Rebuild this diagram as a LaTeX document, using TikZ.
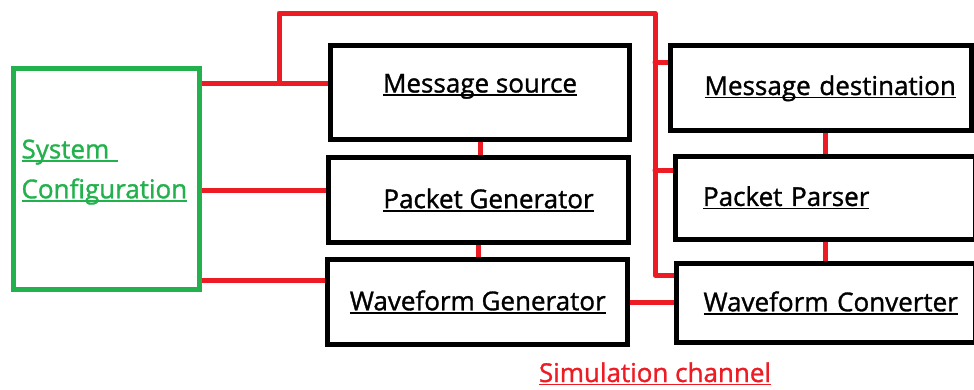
\documentclass[tikz,border=0pt]{standalone}
\usepackage{fontspec}
\setmainfont{Open Sans}
\newfontfamily\boxfont{Open Sans}[FakeBold=1.2]
\usetikzlibrary{positioning, backgrounds}

\definecolor{cfggreen}{RGB}{34,177,76}
\definecolor{wirered}{RGB}{237,28,36}
% underline that cuts through the descenders
\newcommand\ulbox[1]{\leavevmode\setbox0\hbox{#1}\rlap{\rule[-0.13em]{\wd0}{0.06em}}\box0}

\begin{document}
\begin{tikzpicture}[
    x=0.02cm, y=-0.02cm,
    blk/.style={rectangle, draw, line width=0.1cm, minimum width=6cm, minimum height=1.7cm, inner sep=0pt, font=\boxfont\fontsize{14.8}{17}\selectfont},
    leftblk/.style={blk, align=center},
    rightblk/.style={blk, text width=4.9cm, inner xsep=0.55cm, align=left},
    cfgbox/.style={rectangle, draw=cfggreen, text=cfggreen, line width=0.1cm, minimum width=3.72cm, minimum height=4.42cm, text width=3.4cm, inner xsep=0.16cm, align=left, font=\boxfont\fontsize{14.8}{22.7}\selectfont},
    wire/.style={draw=wirered, line width=0.1cm, line cap=round, line join=round},
    chlabel/.style={text=wirered, font=\boxfont\fontsize{14.8}{17}\selectfont},
]
    \useasboundingbox (0,0) rectangle (974,389);

    % Configuration block
    \node[cfgbox, text depth=1.2cm] (sysconf) at (106.5,179) {\ulbox{System\ }\\\ulbox{Configuration}};

    % Transmit side
    \node[leftblk, minimum width=5.98cm, minimum height=1.88cm, text height=0.42cm, text depth=0.42cm] (msgsrc) at (480,92.5) {\ulbox{Message source}};
    \node[leftblk] (pktgen) at (478.5,200) {\hspace*{0.4cm}\ulbox{Packet Generator}};
    \node[leftblk] (wavgen) at (477.75,302) {\ulbox{Waveform Generator}};

    % Receive side
    \node[rightblk, minimum width=6.03cm, minimum height=1.71cm, inner xsep=0.68cm, text width=4.67cm] (msgdst) at (821.25,88.25) {\ulbox{Message destination}};
    \node[rightblk, minimum height=1.67cm] (pktpar) at (825.5,197.75) {\ulbox{Packet Parser}};
    \node[rightblk, minimum height=1.6cm] (wavconv) at (826,303) {\ulbox{Waveform Converter}};

    \node[chlabel, anchor=base] (simch) at (655,382) {\ulbox{Simulation channel}};

    % Tap points of the configuration bus
    \coordinate (tapL) at (279,83);
    \coordinate (tapR) at (655,13);
    \coordinate (busend) at (655,275);
    \coordinate (brdst) at (655,62);
    \coordinate (brpar) at (655,170);
    \coordinate (cfgpk) at (260,190);
    \coordinate (cfgwv) at (260,280);

    \begin{scope}[on background layer]
    \draw[wire] (sysconf.east |- tapL) -- (msgsrc.west |- tapL);
    \draw[wire] (tapL) |- (tapR) -- (busend) -- (busend -| wavconv.west);
    \draw[wire] (brdst) -- (brdst -| msgdst.west);
    \draw[wire] (brpar) -- (brpar -| pktpar.west);
    \draw[wire] (sysconf.east |- cfgpk) -- (pktgen.west |- cfgpk);
    \draw[wire] (sysconf.east |- cfgwv) -- (wavgen.west |- cfgwv);

    % Chain links
    \draw[wire] (msgsrc.south) -- (msgsrc.south |- pktgen.north);
    \draw[wire] (pktgen.south) -- (pktgen.south |- wavgen.north);
    \draw[wire] (pktpar.north |- msgdst.south) -- (pktpar.north);
    \draw[wire] (pktpar.south) -- (pktpar.south |- wavconv.north);
    \draw[wire] (wavgen.east) -- (wavgen.east -| wavconv.west);
    \end{scope}
\end{tikzpicture}
\end{document}
